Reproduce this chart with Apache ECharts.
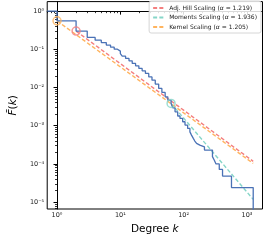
<!DOCTYPE html>
<html><head><meta charset="utf-8">
<script src="https://cdn.jsdelivr.net/npm/echarts@6/dist/echarts.min.js"></script>
<style>html,body{margin:0;padding:0;background:#fff}#c{width:266px;height:240px}</style>
</head><body><div id="c"></div>
<script>
// Empirical CCDF (steps-post): level ccdf[i] holds from degree[i] to degree[i+1]
const degree = [0.7, 1, 2, 3, 4, 5, 6, 7, 8, 9, 10, 10.7, 12.1, 13.7, 15.4, 17.4, 19.6, 22.1, 24.9, 28.1, 31.6, 35.6, 40.3, 45.3, 51, 56.2, 63.3, 67.3, 73.1, 80.5, 87.5, 96.4, 105, 115.5, 125.5, 133, 142, 150, 160, 170, 180, 213, 285, 305, 324, 365, 411, 569, 1254];
const ccdf   = [1.0, 0.557, 0.30, 0.205, 0.174, 0.15, 0.129, 0.114, 0.101, 0.09, 0.077, 0.0664, 0.0578, 0.050, 0.0428, 0.037, 0.0316, 0.0274, 0.0234, 0.019, 0.0156, 0.0123, 0.00947, 0.00743, 0.00571, 0.00468, 0.00384, 0.00295, 0.00231, 0.0018, 0.00155, 0.00127, 0.00104, 0.00085, 0.00069, 0.000568, 0.000466, 0.000398, 0.000344, 0.00031, 0.00028, 0.00023, 0.000155, 0.000125, 0.0001, 0.000072, 0.000048, 0.000024, 0.000001];
// Fitted power-law lines (endpoints) and their xmin markers
const fitNames  = ['Adj. Hill Scaling', 'Moments Scaling', 'Kernel Scaling'];
const fitAlpha  = [1.219, 1.936, 1.205];
const fitColors = ['#f47f7f', '#86d6c8', '#ffb45e'];
const hillK = [2, 1254],    hillF = [0.30, 1.17e-4];
const momK  = [63.3, 1254], momF  = [0.00384, 1.18e-5];
const kerK  = [1, 1254],    kerF  = [0.557, 1.03e-4];
const xTicks = [0, 1, 2, 3];
const yTicks = [-5, -4, -3, -2, -1, 0];
const supMap = {'-':'⁻','0':'⁰','1':'¹','2':'²','3':'³','4':'⁴','5':'⁵'};
const sup = n => '10' + String(n).split('').map(c => supMap[c]).join('');
const L = Math.log10;
const pts = (ks, fs) => ks.map((k, i) => [L(k), L(fs[i])]);
const minorVals = (lo, hi) => { const r = []; for (let n = -7; n <= 4; n++) for (let m = 2; m <= 9; m++) { const v = L(m) + n; if (v > lo && v < hi) r.push(v); } return r; };
const XMIN = -0.155, XMAX = 3.245, YMIN = -5.18, YMAX = 0.25;
const FONT = 'DejaVu Sans';
const names = fitNames.map((n, i) => n + ' (α = ' + fitAlpha[i].toFixed(3) + ')');
const fitData = [pts(hillK, hillF), pts(momK, momF), pts(kerK, kerF)];
const grid = {left: 46, right: 3.5, top: 1.6, bottom: 31, show: true, borderColor: '#000', borderWidth: 1};
const baseAxis = {
  axisLine: {lineStyle: {color: '#000', width: 1}},
  splitLine: {show: false}
};
const series = [{
  type: 'line', name: 'ccdf', data: pts(degree, ccdf), step: 'end', showSymbol: false, symbol: 'none',
  lineStyle: {color: '#4a72b6', width: 1.3}, z: 3, clip: true, silent: true
}];
fitData.forEach((d, i) => {
  series.push({type: 'line', name: names[i], data: d, symbol: 'none', clip: true, z: 2,
    color: fitColors[i], lineStyle: {color: fitColors[i], width: 1.4, type: [4, 2.2]}});
  series.push({type: 'scatter', name: 'mk' + i, data: [d[0]], symbol: 'circle', symbolSize: 8, z: 4,
    itemStyle: {color: 'rgba(0,0,0,0)', borderColor: fitColors[i], borderWidth: 1.5}});
});
const chart = echarts.init(document.getElementById('c'), null, {renderer: 'canvas'});
chart.setOption({
  animation: false,
  textStyle: {fontFamily: FONT},
  grid: grid,
  xAxis: [
    Object.assign({}, baseAxis, {type: 'value', min: XMIN, max: XMAX, position: 'bottom',
      axisTick: {customValues: xTicks, length: 3.5, lineStyle: {color: '#000'}},
      axisLabel: {customValues: xTicks, formatter: v => sup(Math.round(v)), fontSize: 6.5, color: '#222', margin: 2.5, fontFamily: FONT},
      name: 'Degree {i|k}', nameLocation: 'middle', nameGap: 14,
      nameTextStyle: {fontSize: 10.5, color: '#000', fontFamily: FONT, verticalAlign: 'top',
        rich: {i: {fontStyle: 'italic', fontSize: 10.5, fontFamily: FONT}}}}),
    Object.assign({}, baseAxis, {type: 'value', min: XMIN, max: XMAX, position: 'bottom',
      axisLine: {show: false}, axisLabel: {show: false},
      axisTick: {customValues: minorVals(XMIN, XMAX), length: 2, lineStyle: {color: '#000', width: 0.8}}})
  ],
  yAxis: [
    Object.assign({}, baseAxis, {type: 'value', min: YMIN, max: YMAX, position: 'left',
      axisTick: {customValues: yTicks, length: 3.5, lineStyle: {color: '#000'}},
      axisLabel: {customValues: yTicks, formatter: v => sup(Math.round(v)), fontSize: 6.5, color: '#222', margin: 3, fontFamily: FONT},
      name: '{i|F̄}({i|k})', nameLocation: 'middle', nameGap: 28, nameRotate: 90,
      nameTextStyle: {fontSize: 10.5, color: '#000', fontFamily: FONT,
        rich: {i: {fontStyle: 'italic', fontSize: 10.5, fontFamily: FONT}}}}),
    Object.assign({}, baseAxis, {type: 'value', min: YMIN, max: YMAX, position: 'left',
      axisLine: {show: false}, axisLabel: {show: false},
      axisTick: {customValues: minorVals(YMIN, YMAX), length: 2, lineStyle: {color: '#000', width: 0.8}}})
  ],
  legend: {
    data: names, orient: 'vertical', right: 5, top: 1,
    padding: [4, 4, 3, 3], itemWidth: 11, itemHeight: 7, itemGap: 3.5,
    backgroundColor: 'rgba(255,255,255,0.85)', borderColor: '#cccccc', borderWidth: 0.8, borderRadius: 2,
    itemStyle: {color: 'rgba(0,0,0,0)', borderWidth: 0, opacity: 0},
    formatter: n => n.replace('α', '{i|α}'),
    textStyle: {fontSize: 6, color: '#222', fontFamily: FONT,
      rich: {i: {fontStyle: 'italic', fontSize: 6, fontFamily: FONT, color: '#222'}}},
    selectedMode: false
  },
  series: series
});
</script></body></html>
